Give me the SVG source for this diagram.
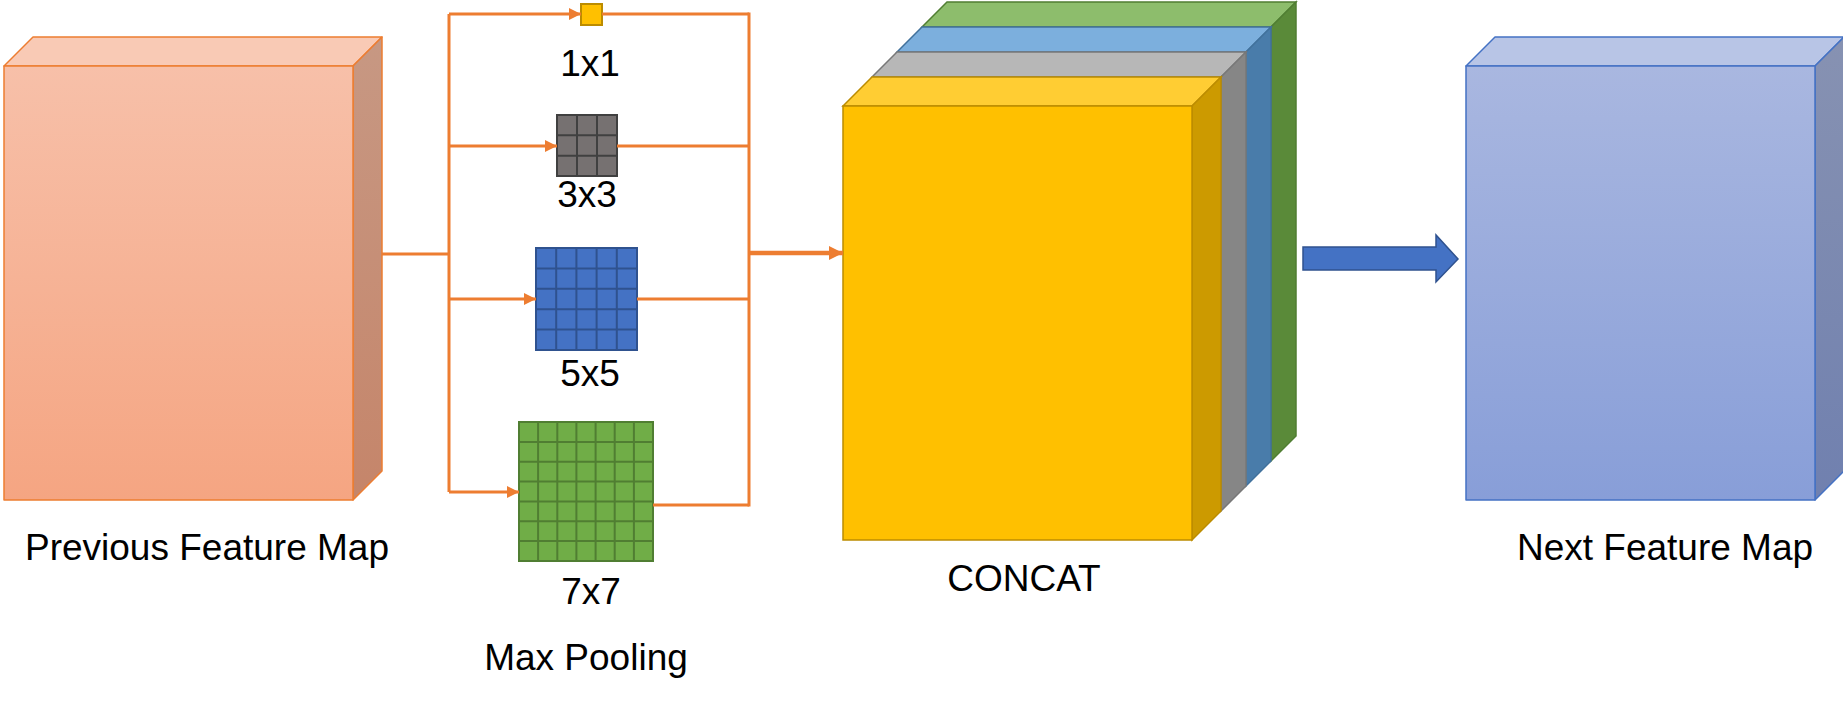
<svg xmlns="http://www.w3.org/2000/svg" width="1843" height="702" viewBox="0 0 1843 702">
  <style>
    .lbl { font-family: "Liberation Sans", Arial, Helvetica, sans-serif; font-size: 37px; fill: #000; text-anchor: middle; }
    .conn { fill: none; stroke: #ED7D31; stroke-width: 3; }
    .thick { fill: none; stroke: #ED7D31; stroke-width: 4.5; }
    .prevS { stroke: #ED7D31; stroke-width: 1.5; stroke-linejoin: round; }
    .nextS { stroke: #4472C4; stroke-width: 1.5; stroke-linejoin: round; }
  </style>
  <defs>
    <linearGradient id="prevFront" x1="0" y1="0" x2="0" y2="1">
      <stop offset="0" stop-color="#F7C0A9"/>
      <stop offset="1" stop-color="#F5A582"/>
    </linearGradient>
    <linearGradient id="prevSide" x1="0" y1="0" x2="0" y2="1">
      <stop offset="0" stop-color="#C79883"/>
      <stop offset="1" stop-color="#C5856A"/>
    </linearGradient>
    <linearGradient id="nextFront" x1="0" y1="0" x2="0" y2="1">
      <stop offset="0" stop-color="#A9B7E0"/>
      <stop offset="1" stop-color="#889ED8"/>
    </linearGradient>
    <linearGradient id="nextSide" x1="0" y1="0" x2="0" y2="1">
      <stop offset="0" stop-color="#8792B2"/>
      <stop offset="1" stop-color="#7080AF"/>
    </linearGradient>
    <marker id="ah" markerUnits="userSpaceOnUse" markerWidth="12" markerHeight="12" refX="12" refY="6" orient="auto">
      <path d="M0,0 L12,6 L0,12 z" fill="#ED7D31"/>
    </marker>
    <marker id="ahBig" markerUnits="userSpaceOnUse" markerWidth="14" markerHeight="14" refX="14" refY="7" orient="auto">
      <path d="M0,0 L14,7 L0,14 z" fill="#ED7D31"/>
    </marker>
  </defs>

  <!-- Previous Feature Map -->
  <g id="prev-map">
    <polygon class="prevS" points="4,66 33,37 382,37 353,66" fill="#F9CAB5"/>
    <polygon class="prevS" points="353,66 382,37 382,471 353,500" fill="url(#prevSide)"/>
    <rect class="prevS" x="4" y="66" width="349" height="434" fill="url(#prevFront)"/>
    <text class="lbl" x="207" y="560">Previous Feature Map</text>
  </g>

  <!-- Kernels -->
  <g id="k1x1">
    <rect x="581" y="4" width="21" height="21" fill="#FFC000" stroke="#BC8C00" stroke-width="2"/>
    <text class="lbl" x="590" y="76">1x1</text>
  </g>
  <g id="k3x3">
    <rect x="557" y="115" width="60" height="61" fill="#767171" stroke="#404040" stroke-width="2"/>
    <path d="M577,115 V176 M597,115 V176 M557,135.3 H617 M557,155.7 H617" stroke="#404040" stroke-width="2" fill="none"/>
    <text class="lbl" x="587" y="207">3x3</text>
  </g>
  <g id="k5x5">
    <rect x="536" y="248" width="101" height="102" fill="#4472C4" stroke="#2F528F" stroke-width="2"/>
    <path d="M556.2,248 V350 M576.4,248 V350 M596.6,248 V350 M616.8,248 V350 M536,268.4 H637 M536,288.8 H637 M536,309.2 H637 M536,329.6 H637" stroke="#2F528F" stroke-width="2" fill="none"/>
    <text class="lbl" x="590" y="386">5x5</text>
  </g>
  <g id="k7x7">
    <rect x="519" y="422" width="134" height="139" fill="#70AD47" stroke="#507E32" stroke-width="2"/>
    <path d="M538.1,422 V561 M557.3,422 V561 M576.4,422 V561 M595.6,422 V561 M614.7,422 V561 M633.9,422 V561 M519,441.9 H653 M519,461.7 H653 M519,481.6 H653 M519,501.4 H653 M519,521.3 H653 M519,541.1 H653" stroke="#507E32" stroke-width="2" fill="none"/>
    <text class="lbl" x="591" y="604">7x7</text>
  </g>
  <g id="maxpool-label">
    <text class="lbl" x="586" y="670">Max Pooling</text>
  </g>

  <!-- CONCAT stack -->
  <g id="concat">
    <!-- green (back) -->
    <polygon points="922,27 947,2 1296,2 1271,27" fill="#8DBD6C" stroke="#507E32" stroke-width="1.5"/>
    <polygon points="1271,27 1296,2 1296,436 1271,461" fill="#5A8A39" stroke="#507E32" stroke-width="1.5"/>
    <!-- blue -->
    <polygon points="897,52 922,27 1271,27 1246,52" fill="#7CAFDD" stroke="#41719C" stroke-width="1.5"/>
    <polygon points="1246,52 1271,27 1271,461 1246,486" fill="#497CAA" stroke="#41719C" stroke-width="1.5"/>
    <!-- gray -->
    <polygon points="872,77 897,52 1246,52 1221,77" fill="#B7B7B7" stroke="#787878" stroke-width="1.5"/>
    <polygon points="1221,77 1246,52 1246,486 1221,511" fill="#868686" stroke="#787878" stroke-width="1.5"/>
    <!-- yellow (front) -->
    <polygon points="843,106 872,77 1221,77 1192,106" fill="#FFCD33" stroke="#BC8C00" stroke-width="1.5"/>
    <polygon points="1192,106 1221,77 1221,511 1192,540" fill="#CC9A00" stroke="#BC8C00" stroke-width="1.5"/>
    <rect x="843" y="106" width="349" height="434" fill="#FFC000" stroke="#BC8C00" stroke-width="1.5"/>
    <text class="lbl" x="1024" y="591">CONCAT</text>
  </g>

  <!-- Next Feature Map -->
  <g id="next-map">
    <polygon class="nextS" points="1466,66 1495,37 1844,37 1815,66" fill="#B8C5E6"/>
    <polygon class="nextS" points="1815,66 1844,37 1844,471 1815,500" fill="url(#nextSide)"/>
    <rect class="nextS" x="1466" y="66" width="349" height="434" fill="url(#nextFront)"/>
    <text class="lbl" x="1665" y="560">Next Feature Map</text>
  </g>

  <!-- Connectors -->
  <g id="connectors">
    <path class="conn" d="M382,254 H449"/>
    <path class="conn" d="M449,14 V492"/>
    <path class="conn" d="M449,14 H581" marker-end="url(#ah)"/>
    <path class="conn" d="M449,146 H557" marker-end="url(#ah)"/>
    <path class="conn" d="M449,299 H536" marker-end="url(#ah)"/>
    <path class="conn" d="M449,492 H519" marker-end="url(#ah)"/>
    <path class="conn" d="M602,14 H749"/>
    <path class="conn" d="M617,146 H749"/>
    <path class="conn" d="M637,299 H749"/>
    <path class="conn" d="M653,505 H749"/>
    <path class="conn" d="M749,12.5 V506.5"/>
    <path class="thick" d="M749,253 H843" marker-end="url(#ahBig)"/>
    <polygon id="block-arrow" points="1303,247 1436,247 1436,235 1458,259 1436,282 1436,270 1303,270" fill="#4472C4" stroke="#2F528F" stroke-width="1.5"/>
  </g>
</svg>
